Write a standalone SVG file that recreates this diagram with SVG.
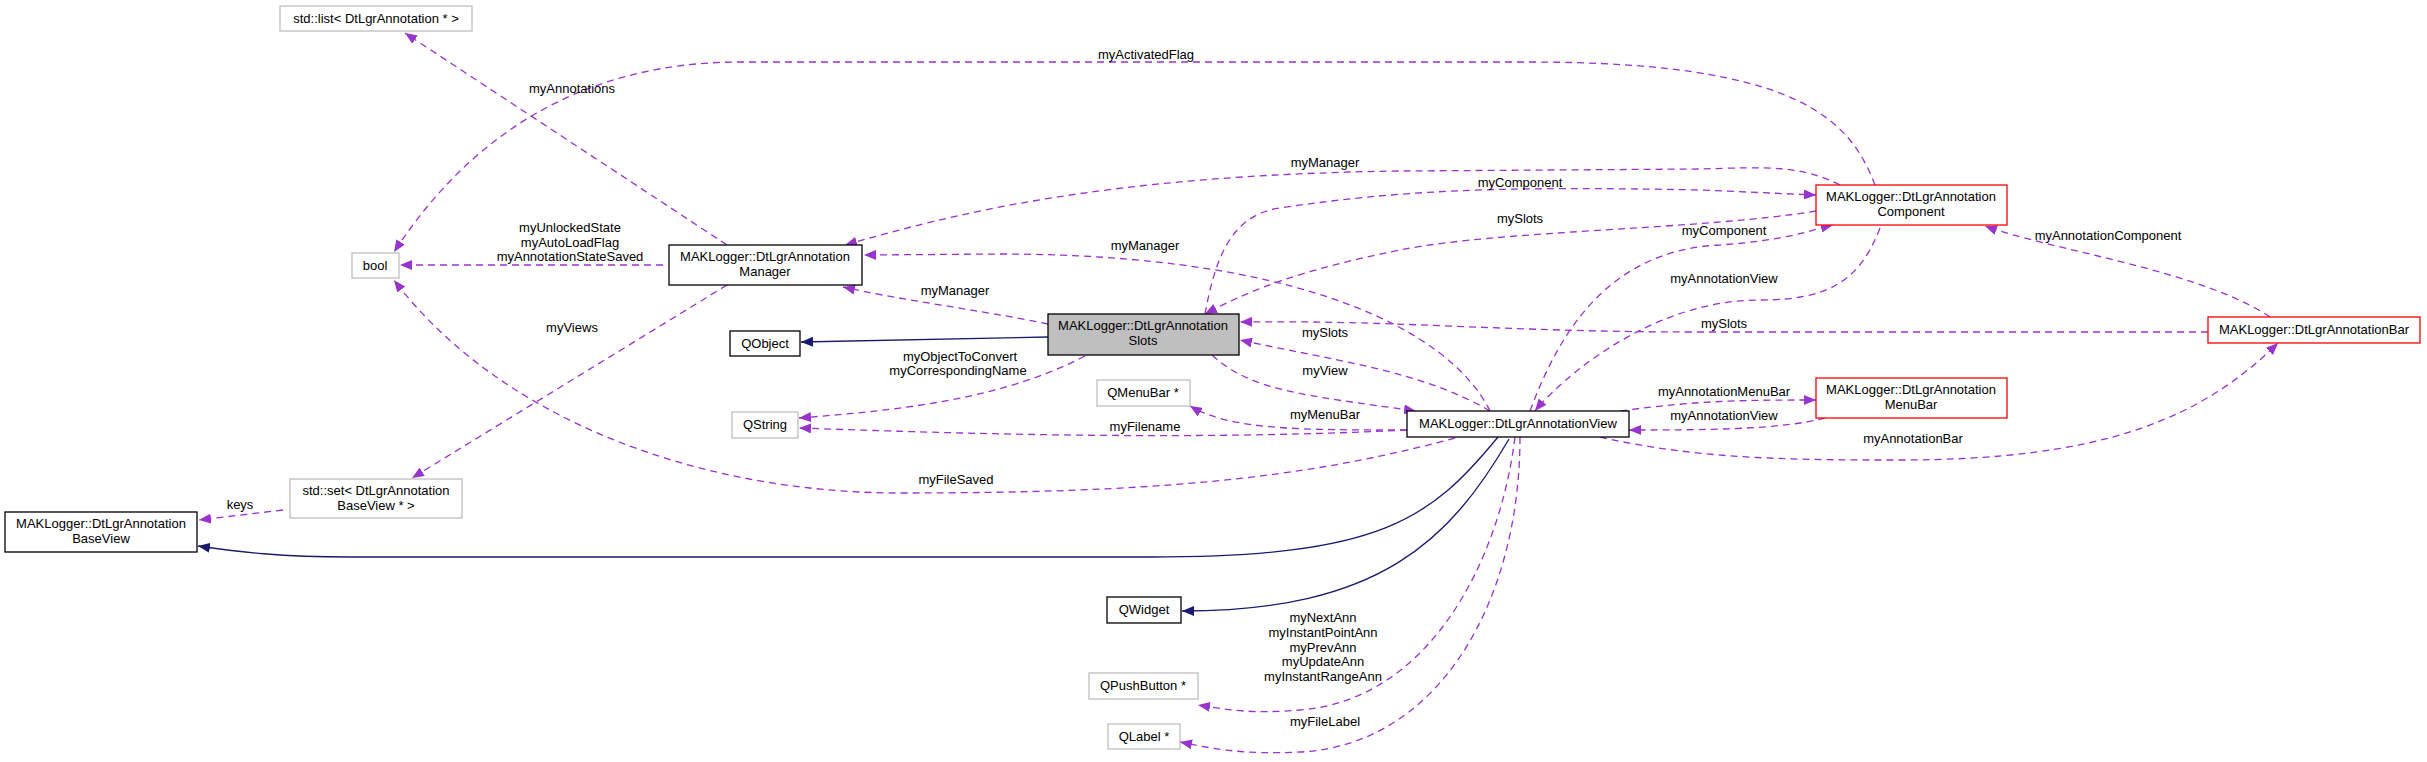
<svg xmlns="http://www.w3.org/2000/svg" width="2427" height="762" viewBox="0 0 2427 762">
<style>
text{font-family:"Liberation Sans",Arial,sans-serif;font-size:13px;fill:#000;text-anchor:middle}
.b{fill:#fff;stroke:#000;stroke-width:1.3}
.g{fill:#fff;stroke:#bfbfbf;stroke-width:1.3}
.r{fill:#fff;stroke:#ff0000;stroke-width:1.3}
.s{fill:#bfbfbf;stroke:#000;stroke-width:1.3}
.d{fill:none;stroke:#9a32cd;stroke-width:1.3;stroke-dasharray:7,5;marker-end:url(#p)}
.n{fill:none;stroke:#191970;stroke-width:1.3;marker-end:url(#nv)}
</style>
<defs>
<marker id="p" viewBox="0 0 12 10" refX="12" refY="5" markerWidth="12" markerHeight="10" markerUnits="userSpaceOnUse" orient="auto"><path d="M0,0 L12,5 L0,10 z" fill="#9a32cd"/></marker>
<marker id="nv" viewBox="0 0 12 10" refX="12" refY="5" markerWidth="12" markerHeight="10" markerUnits="userSpaceOnUse" orient="auto"><path d="M0,0 L12,5 L0,10 z" fill="#191970"/></marker>
</defs>
<rect width="2427" height="762" fill="#fff"/>
<g id="connectors">
<path class="d" d="M727,245 L405,33"/>
<path class="d" d="M1875,185 C1850,120 1800,62 1530,62 L740,62 C600,62 480,120 394,252"/>
<path class="d" d="M663,265 L400,265"/>
<path class="d" d="M1455,438 C1300,480 1150,493 900,493 C700,493 500,420 394,280"/>
<path class="d" d="M727,285 L412,478"/>
<path class="d" d="M283,510 L199,520"/>
<path class="n" d="M1498,437 C1430,520 1380,557 1150,557 L350,557 C280,557 240,552 198,546"/>
<path class="n" d="M1048,337 L801,342"/>
<path class="n" d="M1509,439 C1450,540 1380,611 1182,611"/>
<path class="d" d="M1085,356 C1000,400 900,410 799,418"/>
<path class="d" d="M1407,430 C1200,440 1000,435 799,428"/>
<path class="d" d="M1048,324 C980,310 900,300 843,287"/>
<path class="d" d="M1840,185 C1800,165 1770,167 1700,169 L1400,171 C1100,175 950,215 845,245"/>
<path class="d" d="M1490,411 C1450,330 1300,254 1000,254 L864,255"/>
<path class="d" d="M1205,314 C1215,260 1230,215 1280,208 C1400,190 1500,186 1700,190 L1816,195"/>
<path class="d" d="M1816,211 C1700,230 1500,230 1400,250 C1300,270 1250,290 1205,314"/>
<path class="d" d="M1530,411 C1560,330 1610,250 1720,245 C1790,240 1810,230 1833,225"/>
<path class="d" d="M1880,228 C1860,280 1830,300 1760,300 C1650,300 1560,380 1535,411"/>
<path class="d" d="M2270,317 C2200,270 2050,250 1985,226"/>
<path class="d" d="M2208,332 L1700,332 C1500,332 1400,320 1240,322"/>
<path class="d" d="M1490,411 C1420,370 1330,360 1240,340"/>
<path class="d" d="M1212,355 C1250,390 1300,395 1416,411"/>
<path class="d" d="M1407,430 C1300,430 1230,430 1190,406"/>
<path class="d" d="M1620,411 C1700,400 1750,400 1816,400"/>
<path class="d" d="M1825,418 C1780,430 1700,430 1629,430"/>
<path class="d" d="M1600,437 C1700,460 1800,460 1900,460 C2100,460 2200,420 2278,343"/>
<path class="d" d="M1515,437 C1500,560 1430,700 1300,710 C1250,714 1230,710 1198,705"/>
<path class="d" d="M1520,437 C1520,600 1440,745 1300,752 C1240,755 1210,748 1180,742"/>
</g>
<g id="labels">
<text x="572" y="93">myAnnotations</text>
<text x="1146" y="59">myActivatedFlag</text>
<text x="570" y="232">myUnlockedState</text>
<text x="570" y="247">myAutoLoadFlag</text>
<text x="570" y="261">myAnnotationStateSaved</text>
<text x="956" y="484">myFileSaved</text>
<text x="572" y="332">myViews</text>
<text x="240" y="509">keys</text>
<text x="960" y="361">myObjectToConvert</text>
<text x="958" y="375">myCorrespondingName</text>
<text x="1145" y="431">myFilename</text>
<text x="955" y="295">myManager</text>
<text x="1325" y="167">myManager</text>
<text x="1145" y="250">myManager</text>
<text x="1520" y="187">myComponent</text>
<text x="1520" y="223">mySlots</text>
<text x="1724" y="235">myComponent</text>
<text x="1724" y="283">myAnnotationView</text>
<text x="2108" y="240">myAnnotationComponent</text>
<text x="1724" y="328">mySlots</text>
<text x="1325" y="337">mySlots</text>
<text x="1325" y="375">myView</text>
<text x="1325" y="419">myMenuBar</text>
<text x="1724" y="396">myAnnotationMenuBar</text>
<text x="1724" y="420">myAnnotationView</text>
<text x="1913" y="443">myAnnotationBar</text>
<text x="1323" y="622">myNextAnn</text>
<text x="1323" y="637">myInstantPointAnn</text>
<text x="1323" y="652">myPrevAnn</text>
<text x="1323" y="666">myUpdateAnn</text>
<text x="1323" y="681">myInstantRangeAnn</text>
<text x="1325" y="726">myFileLabel</text>
</g>
<g id="n_list"><rect class="g" x="280" y="6" width="192" height="25"/><text x="376" y="23">std::list&lt; DtLgrAnnotation * &gt;</text></g>
<g id="n_bool"><rect class="g" x="352" y="253" width="47" height="25"/><text x="375" y="270">bool</text></g>
<g id="n_manager"><rect class="b" x="669" y="245" width="193" height="40"/><text x="765" y="261">MAKLogger::DtLgrAnnotation</text><text x="765" y="276">Manager</text></g>
<g id="n_qobject"><rect class="b" x="730" y="331" width="70" height="25"/><text x="765" y="348">QObject</text></g>
<g id="n_qstring"><rect class="g" x="732" y="412" width="66" height="26"/><text x="765" y="429">QString</text></g>
<g id="n_set"><rect class="g" x="290" y="479" width="172" height="39"/><text x="376" y="495">std::set&lt; DtLgrAnnotation</text><text x="376" y="510">BaseView * &gt;</text></g>
<g id="n_baseview"><rect class="b" x="5" y="512" width="192" height="40"/><text x="101" y="528">MAKLogger::DtLgrAnnotation</text><text x="101" y="543">BaseView</text></g>
<g id="n_slots"><rect class="s" x="1048" y="314" width="191" height="41"/><text x="1143" y="330">MAKLogger::DtLgrAnnotation</text><text x="1143" y="345">Slots</text></g>
<g id="n_component"><rect class="r" x="1816" y="185" width="191" height="40"/><text x="1911" y="201">MAKLogger::DtLgrAnnotation</text><text x="1911" y="216">Component</text></g>
<g id="n_bar"><rect class="r" x="2208" y="317" width="212" height="26"/><text x="2314" y="334">MAKLogger::DtLgrAnnotationBar</text></g>
<g id="n_menubar"><rect class="r" x="1816" y="378" width="191" height="40"/><text x="1911" y="394">MAKLogger::DtLgrAnnotation</text><text x="1911" y="409">MenuBar</text></g>
<g id="n_view"><rect class="b" x="1407" y="411" width="222" height="26"/><text x="1518" y="428">MAKLogger::DtLgrAnnotationView</text></g>
<g id="n_qmenubar"><rect class="g" x="1097" y="380" width="93" height="26"/><text x="1143" y="397">QMenuBar *</text></g>
<g id="n_qwidget"><rect class="b" x="1107" y="597" width="74" height="26"/><text x="1144" y="614">QWidget</text></g>
<g id="n_qpush"><rect class="g" x="1089" y="673" width="109" height="26"/><text x="1143" y="690">QPushButton *</text></g>
<g id="n_qlabel"><rect class="g" x="1108" y="724" width="72" height="25"/><text x="1144" y="741">QLabel *</text></g>
</svg>
